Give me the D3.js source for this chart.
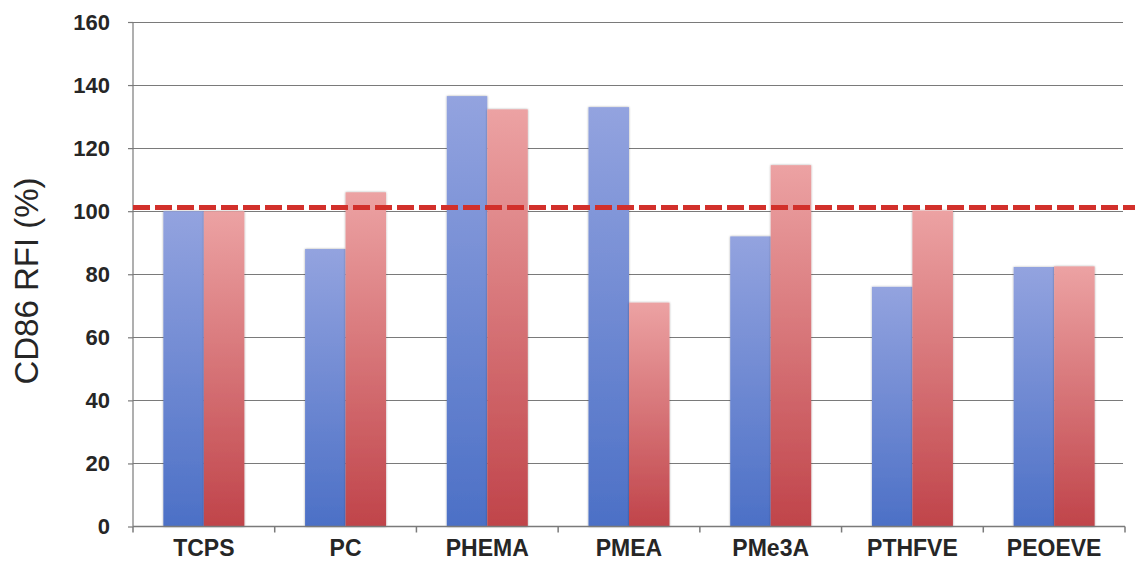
<!DOCTYPE html>
<html>
<head>
<meta charset="utf-8">
<script src="https://cdn.jsdelivr.net/npm/d3@7"></script>
<style>
  html, body { margin: 0; padding: 0; background: #fff; }
  svg { display: block; }
</style>
</head>
<body>
<svg id="chart" width="1135" height="569"></svg>
<script>
const categories = ["TCPS", "PC", "PHEMA", "PMEA", "PMe3A", "PTHFVE", "PEOEVE"];
const seriesNames = ["blue", "red"];
const blueValues = [100, 88, 136.5, 133, 92, 76, 82.3];
const redValues = [100, 106, 132.3, 71, 114.6, 100.2, 82.5];
const yTicks = [0, 20, 40, 60, 80, 100, 120, 140, 160];
const referenceValue = 101.2;
const yLabel = "CD86 RFI (%)";

const svg = d3.select("#chart");
const W = 1135, H = 569;
const m = { left: 133, right: 10, top: 22, bottom: 42.5 };
const plotW = W - m.left - m.right;
const plotH = H - m.top - m.bottom;

const x = d3.scaleBand().domain(categories).range([m.left, m.left + plotW]).padding(0);
const x1 = d3.scaleBand().domain(seriesNames).range([0, x.bandwidth()]).paddingInner(0).paddingOuter(0.75);
const y = d3.scaleLinear().domain([0, 160]).range([m.top + plotH, m.top]);

const defs = svg.append("defs");
const grads = {
  blue: ["#93a3df", "#4c70c6"],
  red: ["#eca2a3", "#c0444a"]
};
Object.entries(grads).forEach(([k, [c0, c1]]) => {
  const g = defs.append("linearGradient").attr("id", "g-" + k)
    .attr("x1", 0).attr("y1", 0).attr("x2", 0).attr("y2", 1);
  g.append("stop").attr("offset", "0%").attr("stop-color", c0);
  g.append("stop").attr("offset", "100%").attr("stop-color", c1);
});
const f = defs.append("filter").attr("id", "soft").attr("x", "-10%").attr("y", "-5%").attr("width", "120%").attr("height", "110%");
f.append("feGaussianBlur").attr("in", "SourceAlpha").attr("stdDeviation", 1.2).attr("result", "b");
f.append("feComponentTransfer").attr("in", "b").attr("result", "s")
  .append("feFuncA").attr("type", "linear").attr("slope", 0.35);
const fm = f.append("feMerge");
fm.append("feMergeNode").attr("in", "s");
fm.append("feMergeNode").attr("in", "SourceGraphic");

const fontFam = "'Liberation Sans', Arial, sans-serif";

// gridlines
svg.append("g").selectAll("line").data(yTicks.filter(d => d > 0)).join("line")
  .attr("x1", m.left).attr("x2", m.left + plotW - 2)
  .attr("y1", d => Math.round(y(d)) + 0.5).attr("y2", d => Math.round(y(d)) + 0.5)
  .attr("stroke", "#7a7a7a").attr("stroke-width", 1.2);

// y axis
const yAxis = svg.append("g").attr("transform", `translate(${m.left},0)`)
  .call(d3.axisLeft(y).tickValues(yTicks).tickSize(5).tickPadding(18).tickFormat(d3.format("d")));
yAxis.select(".domain").attr("stroke", "#7a7a7a").attr("stroke-width", 1.2).attr("d", `M0,${m.top}V${m.top + plotH}`);
yAxis.selectAll(".tick line").attr("stroke", "#7a7a7a").attr("stroke-width", 1.2);
yAxis.selectAll(".tick text")
  .attr("font-family", fontFam)
  .attr("font-weight", "bold").attr("font-size", 22).attr("fill", "#262626");

// bars
const data = categories.map((c, i) => ({ c, vals: [
  { s: "blue", v: blueValues[i] }, { s: "red", v: redValues[i] }
]}));
const gBars = svg.append("g");
gBars.selectAll("g").data(data).join("g")
  .attr("transform", d => `translate(${x(d.c)},0)`)
  .selectAll("rect").data(d => d.vals).join("rect")
  .attr("x", d => x1(d.s)).attr("width", x1.bandwidth())
  .attr("y", d => y(d.v)).attr("height", d => y(0) - y(d.v))
  .attr("fill", d => `url(#g-${d.s})`)
  .attr("filter", "url(#soft)");

// x axis
const xAxisLine = m.top + plotH;
const xTickPos = [...categories.map(c => x(c)), x(categories[categories.length - 1]) + x.bandwidth()];
const gx = svg.append("g");
gx.append("line").attr("x1", m.left).attr("x2", m.left + plotW).attr("y1", xAxisLine).attr("y2", xAxisLine)
  .attr("stroke", "#7a7a7a").attr("stroke-width", 1.5);
gx.selectAll("line.t").data(xTickPos).join("line").attr("class", "t")
  .attr("x1", d => d).attr("x2", d => d).attr("y1", xAxisLine).attr("y2", xAxisLine + 6)
  .attr("stroke", "#7a7a7a").attr("stroke-width", 1.5);
gx.selectAll("text").data(categories).join("text")
  .attr("x", d => x(d) + x.bandwidth() / 2).attr("y", 556)
  .attr("text-anchor", "middle")
  .attr("font-family", fontFam)
  .attr("font-weight", "bold").attr("font-size", 23).attr("fill", "#262626")
  .text(d => d);

// reference dashed line
svg.append("line")
  .attr("x1", m.left).attr("x2", W)
  .attr("y1", y(referenceValue)).attr("y2", y(referenceValue))
  .attr("stroke", "#d2302b").attr("stroke-width", 5)
  .attr("stroke-dasharray", "17,5");

// y label
svg.append("text")
  .attr("transform", `translate(38,${(177 + 385) / 2}) rotate(-90)`)
  .attr("text-anchor", "middle")
  .attr("font-family", fontFam)
  .attr("font-size", 33).attr("fill", "#262626")
  .text(yLabel);
</script>
</body>
</html>
